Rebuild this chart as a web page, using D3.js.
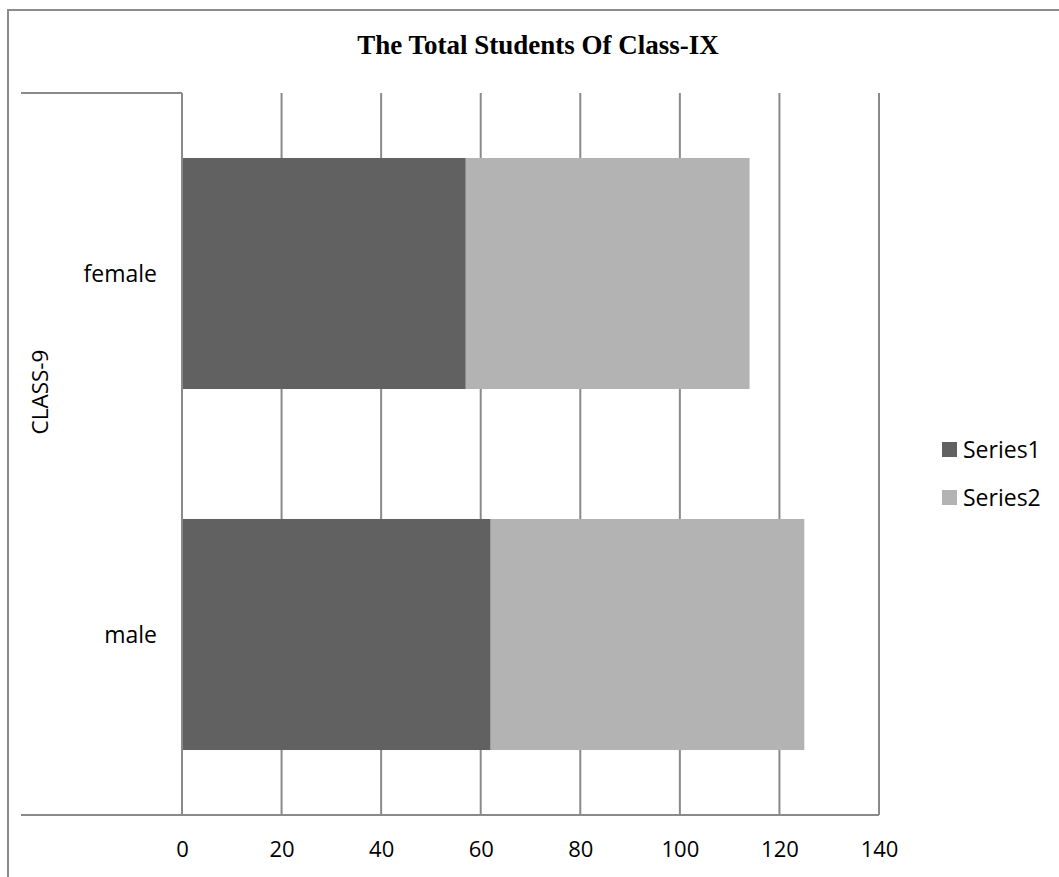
<!DOCTYPE html>
<html>
<head>
<meta charset="utf-8">
<script src="https://cdn.jsdelivr.net/npm/d3@7"></script>
<style>
  html, body { margin: 0; padding: 0; background: #fff; }
  svg { display: block; }
</style>
</head>
<body>
<svg id="chart" width="1059" height="877"></svg>
<script>
const categories = ["female", "male"];
const seriesNames = ["Series1", "Series2"];
const series1 = [57, 62];
const series2 = [57, 63];
const xTicks = [0, 20, 40, 60, 80, 100, 120, 140];
const titleText = "The Total Students Of Class-IX";
const groupLabel = "CLASS-9";
const colors = ["#616161", "#b3b3b3"];

const svg = d3.select("#chart");
const W = 1059, H = 877;
const m = { left: 182, right: 879, top: 93, bottom: 815 };
const gridColor = "#8a8a8a";
const sans = "'Open Sans', sans-serif";

// outer border (top + left)
svg.append("path")
  .attr("d", `M8,${H} L8,10 L${W},10`)
  .attr("fill", "none").attr("stroke", "#8c8c8c").attr("stroke-width", 2);

const x = d3.scaleLinear().domain([0, 140]).range([m.left, m.right]);
const y = d3.scaleBand().domain(categories).range([m.top, m.bottom])
  .paddingInner(0.36).paddingOuter(0.18);

// gridlines
svg.append("g").selectAll("line").data(xTicks).join("line")
  .attr("x1", d => x(d)).attr("x2", d => x(d))
  .attr("y1", m.top).attr("y2", m.bottom)
  .attr("stroke", gridColor).attr("stroke-width", 2);

// stacked data
const rows = categories.map((c, i) => ({ cat: c, Series1: series1[i], Series2: series2[i] }));
const stack = d3.stack().keys(seriesNames)(rows);

svg.append("g").selectAll("g").data(stack).join("g")
  .attr("fill", (d, i) => colors[i])
  .selectAll("rect").data(d => d).join("rect")
  .attr("x", d => x(d[0]))
  .attr("width", d => x(d[1]) - x(d[0]))
  .attr("y", d => y(d.data.cat))
  .attr("height", y.bandwidth());

// category axis line (left) and separators
svg.append("line")
  .attr("x1", m.left).attr("x2", m.left).attr("y1", m.top).attr("y2", m.bottom)
  .attr("stroke", gridColor).attr("stroke-width", 2);
svg.append("line")
  .attr("x1", 21).attr("x2", m.left).attr("y1", m.top).attr("y2", m.top)
  .attr("stroke", gridColor).attr("stroke-width", 2);
svg.append("line")
  .attr("x1", 21).attr("x2", m.right).attr("y1", m.bottom).attr("y2", m.bottom)
  .attr("stroke", gridColor).attr("stroke-width", 2);

// x axis labels
const xAxis = d3.axisBottom(x).tickValues(xTicks).tickSize(0).tickPadding(0);
const gx = svg.append("g").attr("transform", `translate(0,${m.bottom})`).call(xAxis);
gx.select(".domain").remove();
gx.selectAll("text")
  .attr("y", 34).attr("dy", "0.35em")
  .attr("font-family", sans).attr("font-size", 22).attr("fill", "#000");

// category labels
const yAxis = d3.axisLeft(y).tickSize(0).tickPadding(0);
const gy = svg.append("g").attr("transform", `translate(157,0)`).call(yAxis);
gy.select(".domain").remove();
gy.selectAll("text")
  .attr("x", 0).attr("dy", "0.35em")
  .attr("text-anchor", "end")
  .attr("font-family", sans).attr("font-size", 23).attr("fill", "#000");

// group label
svg.append("text")
  .attr("transform", "translate(40,392) rotate(-90)")
  .attr("text-anchor", "middle").attr("dy", "0.35em")
  .attr("font-family", sans).attr("font-size", 22.5).attr("fill", "#000")
  .text(groupLabel);

// title
svg.append("text")
  .attr("x", 538).attr("y", 54)
  .attr("text-anchor", "middle")
  .attr("font-family", "'Liberation Serif', 'Times New Roman', serif")
  .attr("font-weight", "bold").attr("font-size", 27).attr("fill", "#000")
  .text(titleText);

// legend
const lg = svg.append("g").selectAll("g").data(seriesNames).join("g")
  .attr("transform", (d, i) => `translate(942,${442 + i * 48})`);
lg.append("rect").attr("width", 15).attr("height", 15).attr("fill", (d, i) => colors[i]);
lg.append("text").attr("x", 21).attr("y", 7.5).attr("dy", "0.35em")
  .attr("font-family", sans).attr("font-size", 23).attr("fill", "#000")
  .text(d => d);
</script>
</body>
</html>
